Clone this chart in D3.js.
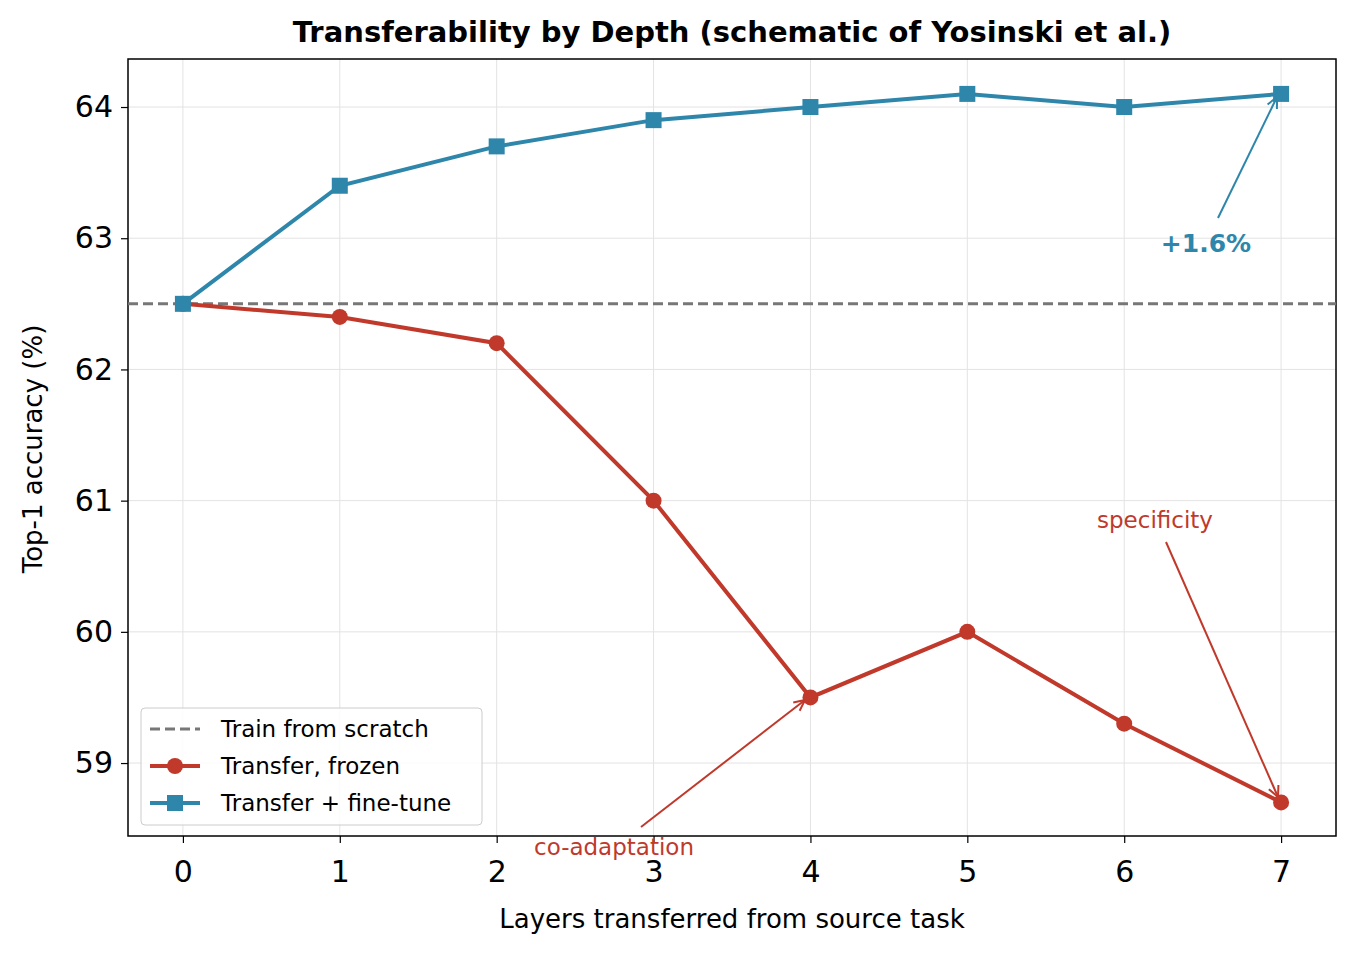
<!DOCTYPE html><html><head><meta charset="utf-8">
<script src="https://cdn.jsdelivr.net/npm/d3@7"></script>
<style>body{margin:0;background:#fff}text{font-family:"DejaVu Sans",sans-serif}</style></head><body>
<svg id="c" width="1355" height="954"></svg>
<script>
const layers=[0,1,2,3,4,5,6,7];
const frozen=[62.5,62.4,62.2,61.0,59.5,60.0,59.3,58.7];
const finetune=[62.5,63.4,63.7,63.9,64.0,64.1,64.0,64.1];
const scratch=62.5;
const yTicks=[59,60,61,62,63,64];
const red="#c0392b",blue="#2e86ab";
const svg=d3.select("#c");
const L=128,R=1336,T=59,B=836;
const x=d3.scaleLinear().domain([-0.35,7.35]).range([L,R]);
const y=d3.scaleLinear().domain([58.444,64.366]).range([B,T]);
const g=svg.append("g");
layers.forEach(v=>g.append("line").attr("x1",x(v)).attr("x2",x(v)).attr("y1",T).attr("y2",B).attr("stroke","#e3e3e3").attr("stroke-width",1));
yTicks.forEach(v=>g.append("line").attr("x1",L).attr("x2",R).attr("y1",y(v)).attr("y2",y(v)).attr("stroke","#e3e3e3").attr("stroke-width",1));
const xa=svg.append("g").attr("transform",`translate(0,${B})`).call(d3.axisBottom(x).tickValues(layers).tickFormat(d3.format("d")).tickSize(7).tickPadding(18));
const ya=svg.append("g").attr("transform",`translate(${L},0)`).call(d3.axisLeft(y).tickValues(yTicks).tickFormat(d3.format("d")).tickSize(7).tickPadding(8));
[xa,ya].forEach(a=>{a.select(".domain").remove();a.selectAll("text").attr("font-size",30).attr("font-family","DejaVu Sans").attr("fill","#000");a.selectAll("line").attr("stroke","#000").attr("stroke-width",1.2);});
svg.append("rect").attr("x",L).attr("y",T).attr("width",R-L).attr("height",B-T).attr("fill","none").attr("stroke","#000").attr("stroke-width",1.5);
svg.append("line").attr("x1",L).attr("x2",R).attr("y1",y(scratch)).attr("y2",y(scratch)).attr("stroke","#777").attr("stroke-width",3).attr("stroke-dasharray","10,5");
const line=d3.line().x((d,i)=>x(layers[i])).y(d=>y(d));
svg.append("path").datum(frozen).attr("d",line).attr("fill","none").attr("stroke",red).attr("stroke-width",4);
svg.append("path").datum(finetune).attr("d",line).attr("fill","none").attr("stroke",blue).attr("stroke-width",4);
svg.selectAll(".fr").data(frozen).enter().append("circle").attr("cx",(d,i)=>x(layers[i])).attr("cy",d=>y(d)).attr("r",8).attr("fill",red);
svg.selectAll(".ft").data(finetune).enter().append("rect").attr("x",(d,i)=>x(layers[i])-8).attr("y",d=>y(d)-8).attr("width",16).attr("height",16).attr("fill",blue);
function arrow(x1,y1,x2,y2,c){
  svg.append("line").attr("x1",x1).attr("y1",y1).attr("x2",x2).attr("y2",y2).attr("stroke",c).attr("stroke-width",2);
  const a=Math.atan2(y2-y1,x2-x1),s=12;
  [0.45,-0.45].forEach(o=>svg.append("line").attr("x1",x2).attr("y1",y2).attr("x2",x2-s*Math.cos(a+o)).attr("y2",y2-s*Math.sin(a+o)).attr("stroke",c).attr("stroke-width",2));
}
arrow(1218,218,1277,97,blue);
svg.append("text").attr("x",1206).attr("y",252).attr("text-anchor","middle").attr("font-size",25).attr("font-weight","bold").attr("fill",blue).text("+1.6%");
arrow(1166,542,1278,797,red);
svg.append("text").attr("x",1155).attr("y",528).attr("text-anchor","middle").attr("font-size",23).attr("fill",red).text("specificity");
arrow(641,827,805,700,red);
svg.append("text").attr("x",614).attr("y",855).attr("text-anchor","middle").attr("font-size",23).attr("fill",red).text("co-adaptation");
svg.append("text").attr("x",732).attr("y",42).attr("text-anchor","middle").attr("font-size",29).attr("font-weight","bold").text("Transferability by Depth (schematic of Yosinski et al.)");
svg.append("text").attr("x",732).attr("y",928).attr("text-anchor","middle").attr("font-size",26).text("Layers transferred from source task");
svg.append("text").attr("transform","translate(42,449) rotate(-90)").attr("text-anchor","middle").attr("font-size",26).text("Top-1 accuracy (%)");
const lg=svg.append("g");
lg.append("rect").attr("x",141).attr("y",708).attr("width",341).attr("height",117).attr("rx",4).attr("fill","#fff").attr("fill-opacity",0.85).attr("stroke","#ccc");
const items=[["Train from scratch","#777","dash"],["Transfer, frozen",red,"circle"],["Transfer + fine-tune",blue,"square"]];
items.forEach((it,i)=>{const yy=729+i*37;
  const l=lg.append("line").attr("x1",150).attr("x2",200).attr("y1",yy).attr("y2",yy).attr("stroke",it[1]).attr("stroke-width",it[2]=="dash"?3:4);
  if(it[2]=="dash")l.attr("stroke-dasharray","10,5");
  if(it[2]=="circle")lg.append("circle").attr("cx",175).attr("cy",yy).attr("r",8).attr("fill",it[1]);
  if(it[2]=="square")lg.append("rect").attr("x",167).attr("y",yy-8).attr("width",16).attr("height",16).attr("fill",it[1]);
  lg.append("text").attr("x",221).attr("y",yy+8).attr("font-size",23).text(it[0]);
});
</script></body></html>
